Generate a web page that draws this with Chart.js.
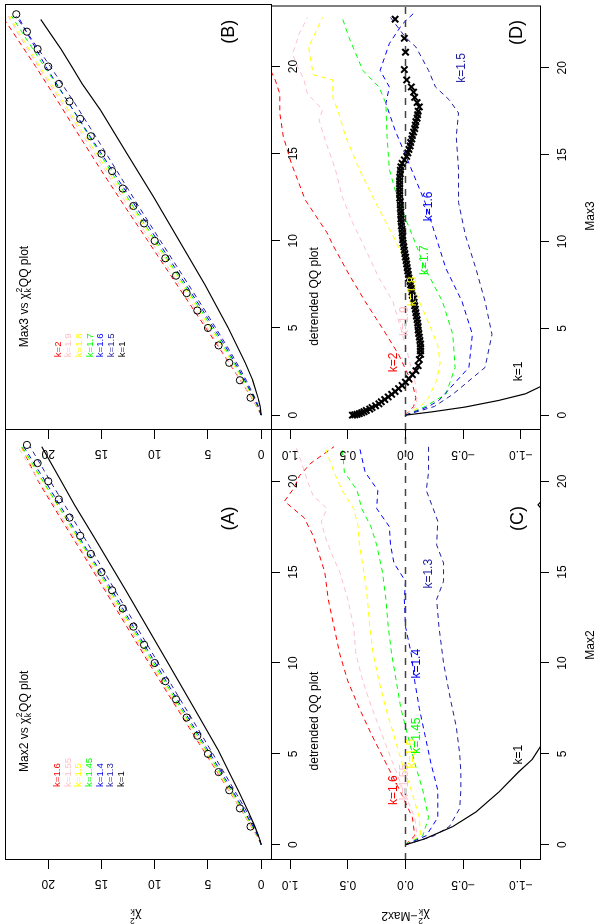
<!DOCTYPE html>
<html lang="en">
<head>
<meta charset="UTF-8">
<title>Max2 / Max3 chi-square QQ plots</title>
<script src="https://cdn.jsdelivr.net/npm/chart.js"></script>
<style>
  html, body { margin: 0; padding: 0; background: #fff; overflow: hidden; }
  /* the figure is laid out landscape, then turned a quarter turn like the source */
  #figure { position: absolute; left: 0; top: 0; width: 924px; height: 599px;
            transform-origin: 0 0; transform: translate(0, 924px) rotate(-90deg); }
  #figure canvas { position: absolute; left: 0; top: 0; }
</style>
</head>
<body>
<div id="figure">
  <canvas id="panelA" width="924" height="599"></canvas>
  <canvas id="panelB" width="924" height="599"></canvas>
  <canvas id="panelC" width="924" height="599"></canvas>
  <canvas id="panelD" width="924" height="599"></canvas>
</div>
<script>
// ---------- data ----------
// (A) Max2 vs chi-square_k quantiles
const max2Grid = [0, 0.5, 1, 2, 3, 4, 6, 8, 10, 12, 14, 16, 18, 20, 21.9];
const chiA_160 = [0, 0.42, 0.93, 1.97, 3.05, 4.13, 6.29, 8.43, 10.55, 12.62, 14.68, 16.75, 18.88, 20.94, 22.52];
const chiA_155 = [0, 0.40, 0.91, 1.96, 3.02, 4.08, 6.20, 8.32, 10.41, 12.45, 14.52, 16.63, 18.70, 20.85, 22.85];
const chiA_150 = [0, 0.37, 0.87, 1.90, 2.95, 4.00, 6.10, 8.19, 10.26, 12.31, 14.34, 16.39, 18.44, 20.58, 22.60];
const chiA_145 = [0, 0.35, 0.81, 1.80, 2.85, 3.90, 5.98, 8.05, 10.11, 12.15, 14.18, 16.24, 18.36, 20.48, 22.45];
const chiA_140 = [0, 0.32, 0.75, 1.72, 2.72, 3.76, 5.83, 7.90, 9.94, 12.00, 14.01, 16.12, 18.20, 20.28, 22.30];
const chiA_130 = [0, 0.25, 0.62, 1.53, 2.52, 3.52, 5.55, 7.61, 9.67, 11.71, 13.73, 15.70, 17.74, 19.80, 21.70];
const max2K1 = [0, 0.33, 1, 1.8, 2.9, 4, 5.2, 7, 10, 14, 17, 18.7, 20, 21.9];
const chiA_100 = [0, 0.16, 0.59, 1.19, 2.09, 3.02, 4.04, 5.8, 8.76, 12.73, 15.78, 17.54, 18.78, 20.6];
const refA = [1, 2, 3, 4, 5, 6, 7, 8, 9, 10, 11, 12, 13, 14, 15, 16, 17, 18, 19, 20, 21, 22];

// (B) Max3 vs chi-square_k quantiles
const max3Grid = [0, 0.5, 1, 2, 3, 4, 6, 8, 10, 12, 14, 16, 18, 20, 22, 22.9];
const chiB_200 = [0, 0.43, 0.91, 1.95, 3.02, 4.10, 6.30, 8.48, 10.65, 12.84, 14.98, 17.06, 19.09, 21.18, 23.35, 24.35];
const chiB_190 = [0, 0.41, 0.90, 1.92, 2.96, 4.00, 6.08, 8.23, 10.38, 12.52, 14.60, 16.70, 18.80, 20.93, 22.95, 23.75];
const chiB_180 = [0, 0.37, 0.80, 1.73, 2.70, 3.73, 5.85, 7.95, 10.08, 12.24, 14.39, 16.52, 18.62, 20.80, 22.80, 23.62];
const chiB_170 = [0, 0.33, 0.72, 1.62, 2.57, 3.58, 5.65, 7.79, 9.92, 12.05, 14.13, 16.16, 18.17, 20.37, 22.50, 23.45];
const chiB_160 = [0, 0.30, 0.68, 1.53, 2.45, 3.42, 5.48, 7.62, 9.72, 11.81, 13.94, 16.07, 18.17, 20.22, 22.05, 22.85];
const chiB_150 = [0, 0.26, 0.60, 1.40, 2.30, 3.26, 5.28, 7.37, 9.46, 11.53, 13.54, 15.56, 17.62, 19.80, 22.05, 23.03];
const max3K1 = [0, 0.5, 1, 2, 3, 5, 7.5, 10, 12.5, 15, 17.5, 19, 20, 21, 22.7];
const chiB_100 = [0, 0.1, 0.3, 0.8, 1.5, 3.1, 5.3, 7.7, 10.1, 12.6, 15.1, 16.8, 17.8, 18.8, 20.7];
const refB = [1, 2, 3, 4, 5, 6, 7, 8, 9, 10, 11, 12, 13, 14, 15, 16, 17, 18, 19, 20, 21, 22, 23];

// (C) detrended: chi-square_k minus Max2
const c160x = [0, 0.5, 1.5, 3, 4.5, 6, 7.5, 9, 10.5, 12, 13.5, 15, 16.2, 17, 18, 18.9, 19.6, 20.3, 21, 21.9];
const c160y = [0, -0.08, -0.06, 0.05, 0.17, 0.29, 0.40, 0.50, 0.57, 0.62, 0.67, 0.70, 0.76, 0.80, 0.88, 1.05, 0.97, 0.92, 0.82, 0.62];
const c155x = [0, 0.5, 1.5, 3, 4.5, 6, 7.5, 9, 10.5, 12, 13.5, 15, 16, 17, 17.8, 18.5, 19.2, 20, 21, 21.9];
const c155y = [0, -0.1, -0.08, 0.02, 0.11, 0.20, 0.29, 0.37, 0.43, 0.45, 0.50, 0.57, 0.64, 0.70, 0.73, 0.68, 0.80, 0.85, 0.90, 0.95];
const c150x = [0, 0.5, 1.5, 3, 4.5, 6, 7.5, 9, 10.5, 12, 13.5, 15, 16.5, 17.5, 18.5, 19.5, 20.5, 21.9];
const c150y = [0, -0.13, -0.12, -0.05, 0.03, 0.10, 0.17, 0.23, 0.28, 0.31, 0.33, 0.36, 0.40, 0.41, 0.45, 0.55, 0.62, 0.70];
const c145x = [0, 0.5, 1.5, 3, 4.5, 6, 7.5, 9, 10.5, 12, 13.5, 15, 16.5, 17.5, 18.5, 19.5, 20.5, 21.9];
const c145y = [0, -0.15, -0.2, -0.15, -0.08, -0.02, 0.04, 0.08, 0.12, 0.15, 0.17, 0.2, 0.25, 0.3, 0.38, 0.42, 0.53, 0.55];
const c140x = [0, 0.5, 1.5, 3, 4.5, 6, 7.5, 9, 10.5, 12, 13.5, 14.5, 15.5, 16.5, 17.5, 18.5, 19.5, 20.5, 21.9];
const c140y = [0, -0.18, -0.28, -0.28, -0.22, -0.17, -0.12, -0.08, -0.05, 0.0, 0.01, 0.0, 0.1, 0.13, 0.14, 0.25, 0.24, 0.35, 0.4];
const c130x = [0, 0.5, 1, 2, 3, 4, 5, 6.5, 8, 10, 12, 13.5, 14.5, 15.5, 16.5, 17.8, 18.5, 19.5, 20.5, 21.9];
const c130y = [0, -0.25, -0.38, -0.47, -0.48, -0.48, -0.47, -0.44, -0.39, -0.33, -0.29, -0.27, -0.33, -0.33, -0.27, -0.28, -0.24, -0.18, -0.2, -0.2];
const c100x = [0, 0.33, 1, 1.8, 2.9, 4, 4.7, 5.5, 7, 10, 14, 17, 18.4, 18.7, 19, 20, 21.9];
const c100y = [0, -0.17, -0.41, -0.61, -0.81, -0.98, -1.10, -1.18, -1.2, -1.24, -1.27, -1.22, -1.19, -1.15, -1.19, -1.22, -1.3];

// (D) detrended: chi-square_k minus Max3
const d200x = [0, 0.5, 1, 1.8, 3.5, 5, 6.55, 8.1, 9.8, 10.5, 12.4, 14.5, 16.05, 17.4, 18.5, 19.3, 20, 22.9];
const d200y = [0, -0.07, -0.09, -0.06, 0.06, 0.2, 0.35, 0.49, 0.63, 0.68, 0.87, 0.99, 1.06, 1.09, 1.09, 1.13, 1.18, 1.4];
const d190x = [0, 0.5, 1, 2, 3, 4, 5, 6.55, 7.9, 9.6, 11.1, 12.6, 14.2, 15.7, 17.0, 17.6, 18.5, 19.3, 20.0, 20.8, 22, 22.9];
const d190y = [0, -0.09, -0.1, -0.08, -0.04, 0.0, 0.04, 0.11, 0.23, 0.35, 0.46, 0.55, 0.61, 0.69, 0.75, 0.72, 0.85, 0.88, 0.93, 0.98, 0.92, 0.85];
const d180x = [0, 0.5, 1, 2, 3, 4, 5, 6.55, 8.45, 10.35, 12.25, 14.15, 16.05, 17.4, 18.3, 19.3, 19.6, 21.2, 22.9];
const d180y = [0, -0.13, -0.2, -0.27, -0.3, -0.28, -0.22, -0.12, -0.03, 0.11, 0.26, 0.40, 0.52, 0.58, 0.63, 0.63, 0.80, 0.84, 0.72];
const d170x = [0, 0.5, 1.2, 2.75, 4.65, 6.55, 8.45, 10.35, 12.25, 14.15, 16.05, 17.95, 18.9, 19.85, 21.75, 22.9];
const d170y = [0, -0.17, -0.35, -0.43, -0.41, -0.32, -0.17, -0.06, 0.06, 0.14, 0.16, 0.17, 0.23, 0.37, 0.49, 0.55];
const d160x = [0, 0.5, 0.85, 2.75, 4.65, 6.55, 8.45, 10.35, 12.25, 14.5, 16.4, 17.95, 18.9, 19.85, 21.4, 22.5, 23.2];
const d160y = [0, -0.2, -0.29, -0.55, -0.58, -0.49, -0.35, -0.26, -0.17, -0.03, 0.09, 0.17, 0.14, 0.22, 0.14, 0.03, -0.08];
const d150x = [0, 0.5, 1.2, 2.75, 4.65, 6.55, 8.45, 10.35, 12.25, 14.15, 16.05, 17.4, 18.15, 18.9, 19.85, 21.2, 21.75, 22.9];
const d150y = [0, -0.25, -0.41, -0.69, -0.75, -0.69, -0.61, -0.52, -0.46, -0.46, -0.44, -0.46, -0.38, -0.26, -0.20, -0.09, 0.0, 0.13];
const d100x = [0, 0.19, 0.47, 0.85, 1.23, 1.61, 2, 3, 5, 10, 15, 20, 22.7];
const d100y = [0, -0.23, -0.52, -0.81, -1.04, -1.16, -1.25, -1.45, -1.6, -2.2, -2.4, -2.0, -2.0];
// observed sample, detrended (the "x" marks)
const obsMax3 = [0, 0.02, 0.05, 0.09, 0.14, 0.2, 0.27, 0.35, 0.44, 0.54, 0.65, 0.77, 0.9, 1.05, 1.2, 1.36, 1.53, 1.71, 1.9, 2.09, 2.33, 2.56, 2.85, 3.2, 3.5,
  3.7, 3.9, 4.1, 4.3, 4.5, 4.7, 4.9, 5.1, 5.3, 5.5, 5.7, 5.9, 6.1, 6.3, 6.5, 6.7, 6.9, 7.1, 7.3, 7.5, 7.7, 7.9, 8.1, 8.3, 8.5, 8.7, 8.9,
  9.1, 9.3, 9.5, 9.7, 9.9, 10.1, 10.3, 10.5, 10.7, 10.9, 11.1, 11.3, 11.5, 11.7, 11.9, 12.1, 12.3, 12.5, 12.7, 12.9, 13.1, 13.3,
  13.5, 13.7, 13.9, 14.1, 14.3, 14.5, 14.7, 14.9, 15.1, 15.3, 15.5, 15.7, 15.9, 16.1, 16.3, 16.5, 16.7, 16.9, 17.1, 17.3, 17.5,
  17.75, 18, 18.3, 18.6, 18.9, 19.3, 19.9, 20.9, 21.7, 22.8];
const obsDiff = [0.46, 0.44, 0.42, 0.40, 0.38, 0.36, 0.34, 0.31, 0.29, 0.26, 0.23, 0.21, 0.18, 0.15, 0.12, 0.09, 0.06, 0.03, 0.0, -0.03, -0.06, -0.09, -0.11, -0.12, -0.13,
  -0.13, -0.13, -0.13, -0.125, -0.12, -0.115, -0.11, -0.11, -0.105, -0.10, -0.095, -0.09, -0.085, -0.08, -0.075, -0.07, -0.06, -0.055, -0.05, -0.045, -0.04, -0.03, -0.025, -0.02, -0.015, -0.01, -0.005,
  0.0, 0.005, 0.01, 0.015, 0.02, 0.025, 0.025, 0.03, 0.03, 0.035, 0.035, 0.04, 0.04, 0.04, 0.045, 0.045, 0.045, 0.05, 0.05, 0.05, 0.05, 0.05,
  0.05, 0.05, 0.045, 0.045, 0.04, 0.03, 0.01, -0.01, -0.02, -0.03, -0.04, -0.045, -0.055, -0.06, -0.07, -0.08, -0.085, -0.09, -0.10, -0.105, -0.11,
  -0.12, -0.10, -0.08, -0.07, -0.05, -0.01, 0.01, 0.0, 0.01, 0.09];

const ticks020 = [0, 5, 10, 15, 20];
const ticksDiff = [-1, -0.5, 0, 0.5, 1];

// ---------- look ----------
const FONT = '"Liberation Sans", Arial, Helvetica, sans-serif';
const W = 924, H = 599;
const Y_AXIS_W = 34, X_AXIS_H = 32;
const RED = '#ff0000', PINK = '#ffc0cb', YELLOW = '#ffff00', GREEN = '#00ff00', BLUE = '#0000ff', NAVY = '#1f1fa3';

const pts = (xs, ys) => xs.map((x, i) => ({ x: x, y: ys[i] }));

function dashed(xs, ys, color) {
  return { data: pts(xs, ys), showLine: true, borderColor: color, borderWidth: 1,
           borderDash: [5, 4], pointRadius: 0, tension: 0 };
}
function solid(xs, ys) {
  return { data: pts(xs, ys), showLine: true, borderColor: '#000', borderWidth: 1.2,
           pointRadius: 0, tension: 0 };
}
function circles(vals) {
  return { data: pts(vals, vals), showLine: false, pointStyle: 'circle', pointRadius: 3.6,
           borderColor: '#000', borderWidth: 1, backgroundColor: 'rgba(0,0,0,0)' };
}
function zeroLine(range) {
  return { data: pts(range, [0, 0]), showLine: true, borderColor: '#444', borderWidth: 1.5,
           borderDash: [7, 6], pointRadius: 0 };
}

// the R style frame around each plot region
const framePlugin = {
  id: 'frame',
  afterDatasetsDraw(chart) {
    const a = chart.chartArea, ctx = chart.ctx;
    ctx.save();
    ctx.strokeStyle = '#000';
    ctx.lineWidth = 1;
    ctx.strokeRect(a.left + 0.5, a.top + 0.5, a.right - a.left, a.bottom - a.top);
    ctx.restore();
  }
};

// text with plotmath-like chi^2_k pieces
function richWidth(ctx, parts, size) {
  let w = 0;
  parts.forEach(p => {
    if (typeof p === 'string') { ctx.font = size + 'px ' + FONT; w += ctx.measureText(p).width; }
    else { ctx.font = (size * 0.72) + 'px ' + FONT;
           w += Math.max(ctx.measureText(p.sup).width, ctx.measureText(p.sub).width) + 1; }
  });
  return w;
}
function drawRich(ctx, parts, size, color, align) {
  const total = richWidth(ctx, parts, size);
  let x = align === 'left' ? 0 : (align === 'right' ? -total : -total / 2);
  ctx.fillStyle = color;
  ctx.textBaseline = 'middle';
  ctx.textAlign = 'left';
  parts.forEach(p => {
    if (typeof p === 'string') {
      ctx.font = size + 'px ' + FONT;
      ctx.fillText(p, x, 0);
      x += ctx.measureText(p).width;
    } else {
      ctx.font = (size * 0.72) + 'px ' + FONT;
      ctx.fillText(p.sup, x + 0.5, -size * 0.42);
      ctx.fillText(p.sub, x + 0.5, size * 0.3);
      x += Math.max(ctx.measureText(p.sup).width, ctx.measureText(p.sub).width) + 1;
    }
  });
}

const textPlugin = {
  id: 'panelText',
  afterDraw(chart, args, opts) {
    const ctx = chart.ctx, sx = chart.scales.x, sy = chart.scales.y;
    (opts.items || []).forEach(it => {
      const px = it.px !== undefined ? it.px : sx.getPixelForValue(it.x);
      const py = it.py !== undefined ? it.py : sy.getPixelForValue(it.y);
      ctx.save();
      ctx.translate(px, py);
      if (it.rot) ctx.rotate(it.rot);
      drawRich(ctx, it.parts || [it.text], it.size || 12, it.color || '#000', it.align || 'center');
      ctx.restore();
    });
  }
};

const chiK = { sup: '2', sub: 'k' };

function legendItems(x, yTop, labels, colors) {
  return labels.map((t, i) => ({ text: t, x: x, y: yTop - i, size: 9.6, color: colors[i], align: 'left' }));
}

// axes: ticks only, no grid; fixed scale sizes so the plot box lands exactly where wanted
function fixSize(s) {
  if (s.isHorizontal()) s.height = X_AXIS_H; else s.width = Y_AXIS_W;
  s.paddingLeft = 0; s.paddingRight = 0; s.paddingTop = 0; s.paddingBottom = 0;
}
const fmtInt = v => String(v);
const fmtDiff = v => v.toFixed(1).replace('-', '\u2212');

function makePanel(id, box, xr, yr, yTicks, yFmt, yPad, datasets, items) {
  return new Chart(document.getElementById(id), {
    type: 'scatter',
    data: { datasets: datasets },
    options: {
      responsive: false,
      animation: false,
      events: [],
      layout: { padding: { left: box.l - Y_AXIS_W, top: box.t, right: W - box.r, bottom: H - box.b - X_AXIS_H } },
      plugins: { legend: { display: false }, tooltip: { enabled: false }, panelText: { items: items } },
      scales: {
        x: {
          type: 'linear', min: xr[0], max: xr[1],
          afterBuildTicks: s => { s.ticks = ticks020.map(v => ({ value: v })); },
          afterFit: fixSize,
          border: { display: false },
          grid: { drawOnChartArea: false, tickLength: 9, color: '#000', lineWidth: 1 },
          ticks: { color: '#000', font: { family: FONT, size: 12 }, padding: 6, maxRotation: 0,
                   autoSkip: false, callback: fmtInt }
        },
        y: {
          type: 'linear', min: yr[0], max: yr[1],
          afterBuildTicks: s => { s.ticks = yTicks.map(v => ({ value: v })); },
          afterFit: fixSize,
          border: { display: false },
          grid: { drawOnChartArea: false, tickLength: 9, color: '#000', lineWidth: 1 },
          ticks: { color: '#000', font: { family: FONT, size: 12 }, padding: yPad, minRotation: 90,
                   maxRotation: 90, crossAlign: 'center', autoSkip: false, callback: yFmt }
        }
      }
    },
    plugins: [framePlugin, textPlugin]
  });
}

// plot boxes of the landscape figure
const boxA = { l: 64, t: 0, r: 494, b: 271 };
const boxB = { l: 494, t: 0, r: 922, b: 271 };
const boxC = { l: 64, t: 271, r: 494, b: 540 };
const boxD = { l: 494, t: 271, r: 922, b: 540 };
const rangeMax2 = [-0.84, 22.82];
const rangeMax3 = [-0.855, 23.53];
const rangeChi = [-0.92, 24.06];
const rangeDiff = [-1.1664, 1.1664];

makePanel('panelA', boxA, rangeMax2, rangeChi, ticks020, fmtInt, 8, [
  circles(refA),
  solid(max2K1, chiA_100),
  dashed(max2Grid, chiA_130, NAVY),
  dashed(max2Grid, chiA_140, BLUE),
  dashed(max2Grid, chiA_145, GREEN),
  dashed(max2Grid, chiA_150, YELLOW),
  dashed(max2Grid, chiA_155, PINK),
  dashed(max2Grid, chiA_160, RED)
], [
  { parts: ['Max2 vs \u03c7', chiK, 'QQ plot'], x: 4.0, y: 22.2, align: 'left' },
  { text: '(A)', x: 17.95, y: 3.0, size: 18 },
  { parts: ['\u03c7', chiK], px: 9, py: 135.5, rot: -Math.PI / 2 }
].concat(legendItems(3.18, 19.14, ['k=1.6', 'k=1.55', 'k=1.5', 'k=1.45', 'k=1.4', 'k=1.3', 'k=1'],
                      [RED, PINK, YELLOW, GREEN, BLUE, NAVY, '#000'])));

makePanel('panelB', boxB, rangeMax3, rangeChi, ticks020, fmtInt, 8, [
  circles(refB),
  solid(max3K1, chiB_100),
  dashed(max3Grid, chiB_150, NAVY),
  dashed(max3Grid, chiB_160, BLUE),
  dashed(max3Grid, chiB_170, GREEN),
  dashed(max3Grid, chiB_180, YELLOW),
  dashed(max3Grid, chiB_190, PINK),
  dashed(max3Grid, chiB_200, RED)
], [
  { parts: ['Max3 vs \u03c7', chiK, 'QQ plot'], x: 3.89, y: 22.2, align: 'left' },
  { text: '(B)', x: 22.0, y: 3.0, size: 18 }
].concat(legendItems(3.32, 19.08, ['k=2', 'k=1.9', 'k=1.8', 'k=1.7', 'k=1.6', 'k=1.5', 'k=1'],
                      [RED, PINK, YELLOW, GREEN, BLUE, NAVY, '#000'])));

makePanel('panelC', boxC, rangeMax2, rangeDiff, ticksDiff, fmtDiff, 3, [
  solid(c100x, c100y),
  zeroLine(rangeMax2),
  dashed(c130x, c130y, NAVY),
  dashed(c140x, c140y, BLUE),
  dashed(c145x, c145y, GREEN),
  dashed(c150x, c150y, YELLOW),
  dashed(c155x, c155y, PINK),
  dashed(c160x, c160y, RED)
], [
  { text: 'detrended QQ plot', x: 4.09, y: 0.79, align: 'left' },
  { text: '(C)', x: 17.95, y: -0.98, size: 18 },
  { text: 'k=1.6', x: 3.0, y: 0.10, color: RED },
  { text: 'k=1.55', x: 3.45, y: 0.004, color: PINK },
  { text: 'k=1.5', x: 5.01, y: -0.054, color: YELLOW },
  { text: 'k=1.45', x: 6.0, y: -0.094, color: GREEN },
  { text: 'k=1.4', x: 9.96, y: -0.094, color: BLUE },
  { text: 'k=1.3', x: 14.91, y: -0.198, color: NAVY },
  { text: 'k=1', x: 4.95, y: -0.984 },
  { text: 'Max2', px: 279, py: 591 },
  { parts: ['\u03c7', chiK, '\u2212Max2'], px: 9, py: 405.5, rot: -Math.PI / 2 }
]);

makePanel('panelD', boxD, rangeMax3, rangeDiff, ticksDiff, fmtDiff, 3, [
  { data: pts(obsMax3, obsDiff), showLine: false, pointStyle: 'crossRot', pointRadius: 4.5,
    borderColor: '#000', borderWidth: 2 },
  solid(d100x, d100y),
  zeroLine(rangeMax3),
  dashed(d150x, d150y, NAVY),
  dashed(d160x, d160y, BLUE),
  dashed(d170x, d170y, GREEN),
  dashed(d180x, d180y, YELLOW),
  dashed(d190x, d190y, PINK),
  dashed(d200x, d200y, RED)
], [
  { text: 'detrended QQ plot', x: 3.99, y: 0.79, align: 'left' },
  { text: '(D)', x: 22.03, y: -0.97, size: 18 },
  { text: 'k=2', x: 3.04, y: 0.10, color: RED },
  { text: 'k=1.9', x: 5.41, y: 0.004, color: PINK },
  { text: 'k=1.8', x: 7.12, y: -0.06, color: YELLOW },
  { text: 'k=1.7', x: 8.93, y: -0.17, color: GREEN },
  { text: 'k=1.6', x: 12.02, y: -0.198, color: BLUE },
  { text: 'k=1.5', x: 20.0, y: -0.49, color: NAVY },
  { text: 'k=1', x: 2.52, y: -0.98 },
  { text: 'Max3', px: 708, py: 591 }
]);
</script>
</body>
</html>
